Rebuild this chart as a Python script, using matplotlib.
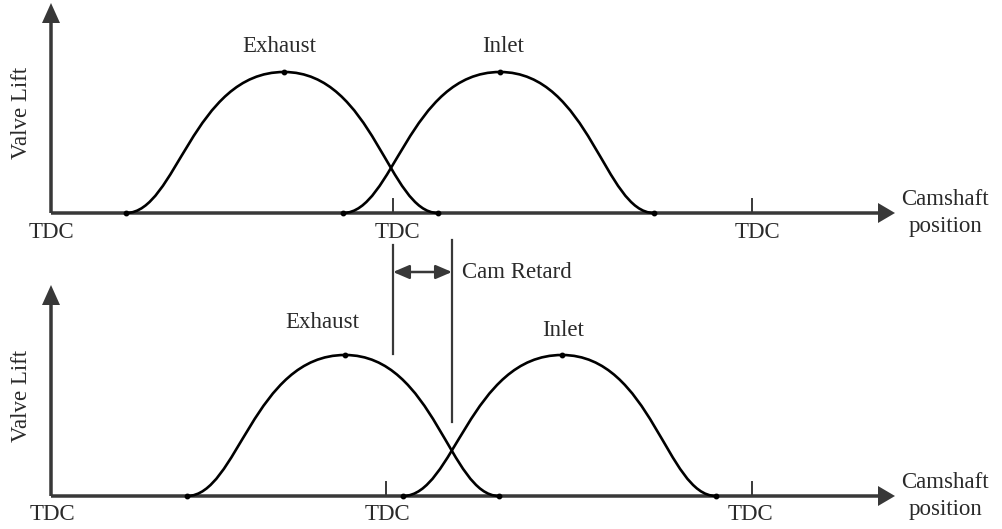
import numpy as np
import matplotlib.pyplot as plt
from matplotlib.path import Path
from matplotlib.patches import PathPatch

# ---------- Daten (Pixel-Koordinaten des Schemas) ----------
panel_names = ["normal", "retarded"]
baseline_y = [213, 496]          # x-Achse je Panel
peak_height = [141, 141]         # Ventilhub (Maximum)
axis_top = [3, 285]              # Spitze der y-Achse
tdc_x = [[51, 393, 752], [51, 386, 752]]
tdc_label_x = [[51, 397, 757], [52, 387, 750]]

# Nocken-Kurven: (Beginn, Maximum, Ende)
exhaust_cam = [(126, 284, 438), (187, 345, 499)]
inlet_cam = [(343, 500, 654), (403, 562, 716)]
exhaust_label = [(279, 46), (322, 322)]
inlet_label = [(503, 46), (563, 330)]

# Cam-Retard Markierung
retard_x = [393, 452]
retard_top = [245, 240]
retard_bottom = [354, 422]
retard_arrow_y = 272

axis_color = "#383838"
text_color = "#2a2a2a"
plt.rcParams["font.family"] = ["Liberation Serif", "DejaVu Serif"]
FS = 16.5


def cam_path(start, peak, end, yb, h, a=0.32, b=0.58):
    rise = peak - start
    fall = end - peak
    verts = [
        (start, yb),
        (start + a * rise, yb), (peak - b * rise, yb - h), (peak, yb - h),
        (peak + b * fall, yb - h), (end - a * fall, yb), (end, yb),
    ]
    codes = [Path.MOVETO] + [Path.CURVE4] * 6
    return Path(verts, codes)


fig = plt.figure(figsize=(10.02, 5.29), dpi=100)
ax = fig.add_axes([0, 0, 1, 1])
ax.set_xlim(0, 1002)
ax.set_ylim(529, 0)
ax.axis("off")

for i in range(2):
    yb = baseline_y[i]
    h = peak_height[i]

    # Achsen mit Pfeilspitzen
    ax.arrow(51, yb, 0, axis_top[i] - yb, width=3.5, head_width=18,
             head_length=20, length_includes_head=True,
             color=axis_color, lw=0)
    ax.arrow(51, yb, 895 - 51, 0, width=3.5, head_width=20,
             head_length=17, length_includes_head=True,
             color=axis_color, lw=0)

    # TDC Markierungen
    for k, (tx, lx) in enumerate(zip(tdc_x[i], tdc_label_x[i])):
        if k > 0:
            ax.plot([tx, tx], [yb - 14, yb], color=axis_color, lw=1.4)
        ax.text(lx, yb + 19, "TDC", ha="center", va="center",
                fontsize=FS, color=text_color)

    # Kurven
    for cam in (exhaust_cam[i], inlet_cam[i]):
        s, p, e = cam
        ax.add_patch(PathPatch(cam_path(s, p, e, yb, h), fill=False,
                               lw=1.9, edgecolor="black",
                               capstyle="round", zorder=3))
        ax.plot([s, p, e], [yb, yb - h, yb], "o", color="black",
                ms=3.2, zorder=4)

    ax.text(*exhaust_label[i], "Exhaust", ha="center", va="center",
            fontsize=FS, color=text_color)
    ax.text(*inlet_label[i], "Inlet", ha="center", va="center",
            fontsize=FS, color=text_color)

    ax.text(22, yb - 100, "Valve Lift", rotation=90, ha="center",
            va="center", fontsize=FS, color=text_color)
    ax.text(945, yb, "Camshaft\nposition", ha="center", va="center",
            fontsize=FS, color=text_color, linespacing=1.4)

# Cam Retard
for x, t, b in zip(retard_x, retard_top, retard_bottom):
    ax.plot([x, x], [t, b], color=axis_color, lw=1.6)
ax.annotate("", xy=(retard_x[1], retard_arrow_y),
            xytext=(retard_x[0], retard_arrow_y),
            arrowprops=dict(arrowstyle="<|-|>,head_length=0.7,head_width=0.3",
                            color=axis_color, lw=1.8, shrinkA=0, shrinkB=0,
                            mutation_scale=14))
ax.text(462, retard_arrow_y, "Cam Retard", ha="left", va="center",
        fontsize=FS, color=text_color)

fig.savefig("out.png", dpi=100)
